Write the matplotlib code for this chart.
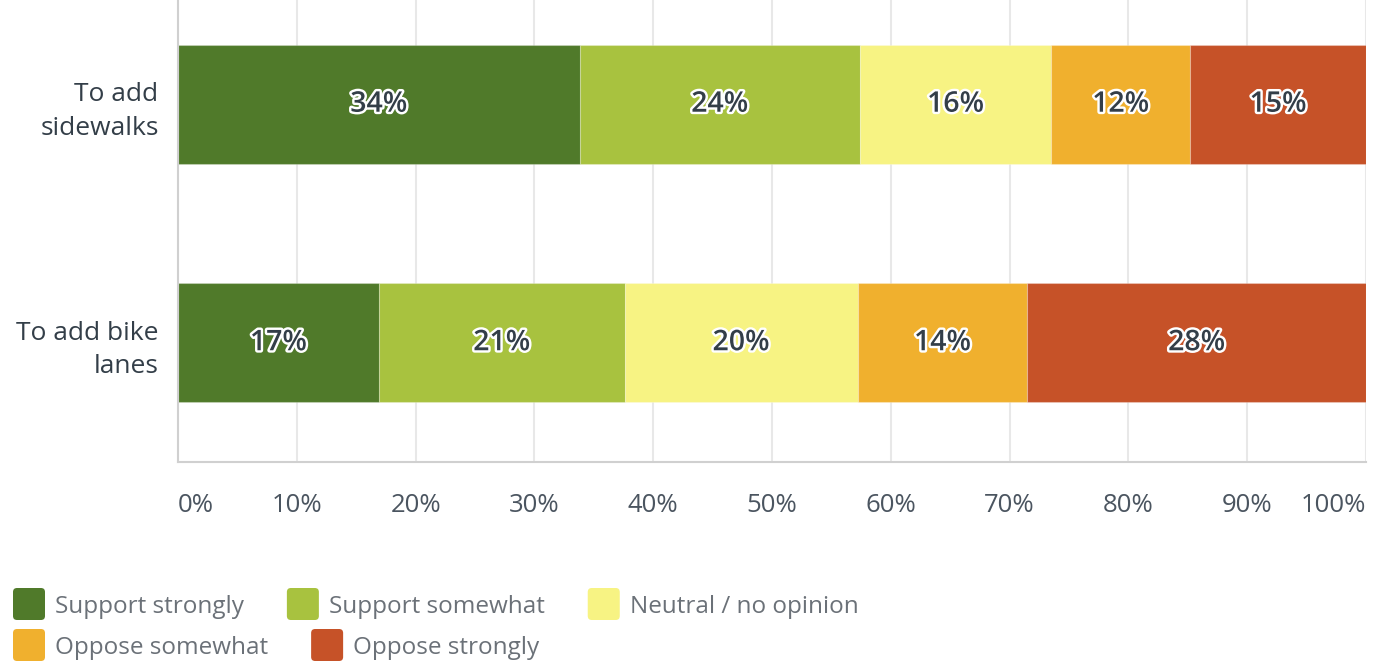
import numpy as np
import matplotlib
matplotlib.use("Agg")
import matplotlib.pyplot as plt
import matplotlib.patheffects as pe
from matplotlib.patches import FancyBboxPatch

plt.rcParams['font.family'] = ['Open Sans', 'DejaVu Sans']

questions = ["To add\nsidewalks", "To add bike\nlanes"]
answers = ["Support strongly", "Support somewhat", "Neutral / no opinion",
           "Oppose somewhat", "Oppose strongly"]
colors = ["#507a2a", "#a8c23f", "#f7f383", "#f0b02e", "#c65228"]
# share of respondents (%)
sidewalks = [33.8, 23.6, 16.1, 11.7, 14.8]
bike_lanes = [16.9, 20.7, 19.6, 14.3, 28.5]
shown = [[34, 24, 16, 12, 15], [17, 21, 20, 14, 28]]
ticks = np.arange(0, 101, 10)

data = np.array([sidewalks, bike_lanes])
W, H = 1380, 662
fig = plt.figure(figsize=(W / 100, H / 100), dpi=100)
ax = fig.add_axes([178 / W, (H - 462) / H, 1188 / W, 462 / H])

y = np.arange(len(questions))
left = np.zeros(len(questions))
for i in range(len(answers)):
    ax.barh(y, data[:, i], left=left, height=0.5, color=colors[i],
            edgecolor="#ffffff40", linewidth=0.8, zorder=2)
    for j in range(len(questions)):
        t = ax.text(left[j] + data[j, i] / 2, y[j], f"{shown[j][i]}%",
                    ha="center", va="center", fontsize=20.5, fontweight="semibold",
                    color="#333e48", zorder=3)
        t.set_path_effects([pe.withStroke(linewidth=3.5, foreground="white")])
    left += data[:, i]

ax.set_xlim(0, 100)
ax.set_ylim(1.5, -0.437)
ax.set_yticks(y)
ax.set_yticklabels(questions, fontsize=19, color="#333e48", linespacing=1.45,
                   ha="right")
ax.set_xticks(ticks)
labels = ax.set_xticklabels([f"{v}%" for v in ticks], fontsize=18.5, color="#4b5560")
labels[0].set_ha("left")
labels[-1].set_ha("right")
ax.tick_params(axis="x", length=0, pad=22)
ax.tick_params(axis="y", length=0, pad=14)
ax.grid(axis="x", color="#e8e8e8", linewidth=1.5, zorder=0)
ax.set_axisbelow(True)
for s in ["top", "right"]:
    ax.spines[s].set_visible(False)
for s in ["left", "bottom"]:
    ax.spines[s].set_color("#d0d0d0")
    ax.spines[s].set_linewidth(1.5)

# legend laid out as flowing text, three items then two
fig.canvas.draw()
renderer = fig.canvas.get_renderer()
rows = [[0, 1, 2], [3, 4]]
row_y = [604, 645]
for r, items in enumerate(rows):
    x = 13
    for k in items:
        yc = H - row_y[r]
        sq = FancyBboxPatch((x + 2, yc - 14), 28, 28,
                            boxstyle="round,pad=2,rounding_size=4",
                            transform=None, facecolor=colors[k], edgecolor="none")
        fig.patches.append(sq)
        txt = fig.text((x + 42) / W, (yc - 3) / H, answers[k], fontsize=17.5,
                       color="#6b7178", ha="left", va="center")
        bb = txt.get_window_extent(renderer)
        x = bb.x1 + 43

fig.savefig("out.png", dpi=100)
